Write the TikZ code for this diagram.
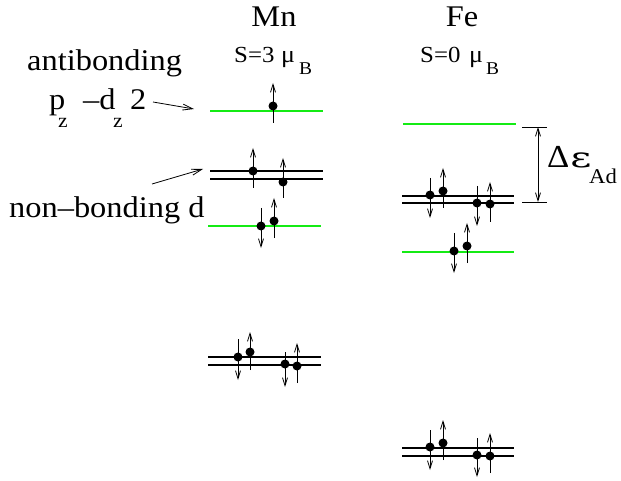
\documentclass[tikz,border=0pt]{standalone}
\usepackage{fontspec}
\setmainfont[FakeStretch=1.08]{Liberation Serif}
\newfontfamily\epsfont{DejaVu Serif}
\usetikzlibrary{arrows.meta}
\definecolor{lvgreen}{RGB}{20,235,20}
\tikzset{
  level/.style={line width=1.6pt,black},
  glevel/.style={line width=1.6pt,lvgreen},
  spin/.style={line width=0.8pt,-{Straight Barb[length=8pt,width=5pt]}},
  lab/.style={line width=0.8pt,-{Straight Barb[length=10pt,width=6pt]}},
  big/.style={font=\fontsize{30}{36}\selectfont,inner sep=0pt},
  mid/.style={font=\fontsize{23}{27}\selectfont,inner sep=0pt},
  mu/.style={font=\fontsize{24}{28}\selectfont,inner sep=0pt},
  sub/.style={font=\fontsize{18}{21}\selectfont,inner sep=0pt},
  subz/.style={font=\fontsize{20}{24}\selectfont,inner sep=0pt},
  subad/.style={font=\fontsize{21}{25}\selectfont,inner sep=0pt},
}
\newcommand\elec[4]{\draw[spin] (#1,#3) -- (#1,#4); \fill (#1,#2) circle (4.5pt);}
\begin{document}
\begin{tikzpicture}[x=1pt,y=-1pt]
\path[use as bounding box] (0,0) rectangle (621,481);
% headers
\node[big,anchor=base] (mn) at (274,27) {Mn};
\node[big,anchor=base] (fe) at (462,27) {Fe};
\node[mid,anchor=base west] (s3) at (234,63) {S=3};
\node[mu,anchor=base west] (mu3) at (281,63) {μ};
\node[sub,anchor=base west] (b3) at (299,75) {B};
\node[mid,anchor=base west] (s0) at (420,63) {S=0};
\node[mu,anchor=base west] (mu0) at (469,63) {μ};
\node[sub,anchor=base west] (b0) at (486,75) {B};
% labels
\node[big,anchor=base west] (anti) at (27,71) {antibonding};
\node[big,anchor=base west] (pz) at (49,110) {p};
\node[subz,anchor=base west] (z1) at (58,128) {z};
\node[big,anchor=base west] (dz) at (83,110) {–d};
\node[subz,anchor=base west] (z2) at (113,128) {z};
\node[big,anchor=base west] (two) at (130,110) {2};
\node[big,anchor=base west] (nb) at (9,218) {non–bonding d};
\node[anchor=base west,inner sep=0pt,font=\fontsize{32}{38}\selectfont] (de) at (547,168) {Δ\kern1pt{\epsfont\fontsize{28}{32}\selectfont\scalebox{1.45}[1]{ε}}};
\node[subad,anchor=base west] (ad) at (589,184) {Ad};
% label arrows
\coordinate (a1s) at (153,102); \coordinate (a1e) at (194,109);
\draw[lab] (a1s) -- (a1e);
\coordinate (a2s) at (152,184); \coordinate (a2e) at (203,169);
\draw[lab] (a2s) -- (a2e);
% Mn levels
\draw[glevel] (210,111) -- (323,111);
\elec{273}{106}{123}{83}
\draw[level] (210,171) -- (323,171);
\draw[level] (210,179) -- (323,179);
\elec{253}{171}{188}{148}
\elec{283}{182}{198}{158}
\draw[glevel] (208,226) -- (321,226);
\elec{261}{226}{208}{248}
\elec{274}{221}{238}{198}
\draw[level] (208,357) -- (321,357);
\draw[level] (208,365) -- (321,365);
\elec{238}{357}{339}{380}
\elec{250}{352}{370}{332}
\elec{285}{364}{352}{387}
\elec{297}{366}{383}{343}
% Fe levels
\draw[glevel] (403,124) -- (516,124);
\draw[level] (402,196) -- (514,196);
\draw[level] (402,203) -- (514,203);
\elec{430}{195}{178}{218}
\elec{443}{191}{208}{168}
\elec{477}{203}{186}{226}
\elec{490}{204}{222}{182}
\draw[glevel] (402,252) -- (514,252);
\elec{454}{251}{233}{273}
\elec{467}{246}{263}{223}
\draw[level] (402,448) -- (514,448);
\draw[level] (402,456) -- (514,456);
\elec{430}{447}{430}{470}
\elec{443}{443}{460}{420}
\elec{477}{455}{438}{477}
\elec{490}{456}{473}{433}
% Delta epsilon marker
\coordinate (t1) at (522,127); \coordinate (t2) at (547,127);
\coordinate (b1) at (522,202); \coordinate (b2) at (547,202);
\draw[line width=0.8pt] (t1) -- (t2);
\draw[line width=0.8pt] (b1) -- (b2);
\coordinate (dt) at (538,127); \coordinate (db) at (538,202);
\draw[line width=0.8pt,{Straight Barb[length=8pt,width=5pt]}-{Straight Barb[length=8pt,width=5pt]}] (dt) -- (db);
\end{tikzpicture}
\end{document}
